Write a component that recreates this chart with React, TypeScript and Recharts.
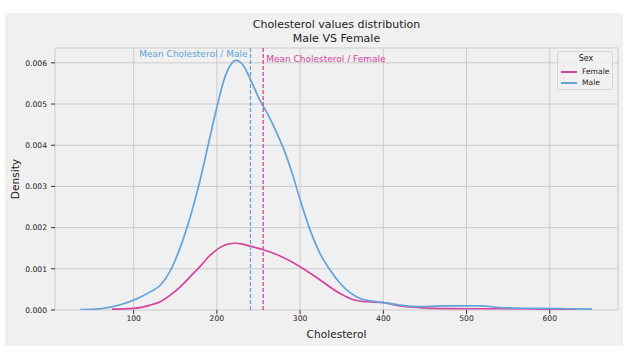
import React from 'react';
import { LineChart, Line, XAxis, YAxis, CartesianGrid, ReferenceLine, Legend } from 'recharts';

const maleCholesterol = [36, 55, 72, 86, 100, 120, 132, 144, 156, 168, 180, 188, 200, 208, 215, 223, 232, 240, 252, 262, 272, 282, 292, 300, 312, 324, 336, 348, 360, 372, 385, 400, 420, 445, 470, 495, 517, 540, 580, 620, 651];
const maleDensity = [0.00001, 0.00002, 0.00007, 0.00014, 0.00024, 0.00044, 0.0006, 0.00095, 0.00152, 0.00226, 0.00316, 0.00387, 0.00492, 0.00555, 0.0059, 0.00606, 0.00593, 0.00561, 0.00508, 0.00472, 0.0043, 0.00382, 0.00322, 0.00268, 0.00194, 0.00137, 0.00097, 0.00065, 0.00042, 0.00028, 0.00022, 0.00018, 0.00012, 0.00008, 0.0001, 0.0001, 0.0001, 0.00006, 0.00004, 0.00003, 0.00002];

const femaleCholesterol = [74, 100, 120, 132, 144, 156, 168, 180, 192, 204, 213, 222, 231, 240, 255, 276, 300, 324, 348, 364, 380, 400, 420, 445, 457, 500, 560, 600, 631];
const femaleDensity = [0.00002, 0.00004, 0.00012, 0.0002, 0.00036, 0.00056, 0.00081, 0.00106, 0.00133, 0.00152, 0.0016, 0.00162, 0.0016, 0.00155, 0.00147, 0.00131, 0.00105, 0.00073, 0.0004, 0.00025, 0.0002, 0.00018, 0.0001, 0.00006, 0.00004, 0.00003, 0.00003, 0.00002, 0.00002];

const meanMale = 240.4;
const meanFemale = 255.6;

const xTicks = [100, 200, 300, 400, 500, 600];
const yTicks = [0, 0.001, 0.002, 0.003, 0.004, 0.005, 0.006];

const titleLines = ['Cholesterol values distribution', 'Male VS Female'];

const MALE = '#62a3d9';
const FEMALE = '#d4449c';
const FONT = 'DejaVu Sans, sans-serif';

const maleData = maleCholesterol.map((x, i) => ({ x, y: maleDensity[i] }));
const femaleData = femaleCholesterol.map((x, i) => ({ x, y: femaleDensity[i] }));

const centered = (left: number, top: number, size: number, extra: React.CSSProperties = {}): React.CSSProperties => ({
  position: 'absolute', left, top, transform: 'translate(-50%,-50%)', fontSize: size,
  fontFamily: FONT, color: '#222', whiteSpace: 'nowrap', lineHeight: 1, ...extra,
});

const LegendBox = () => (
  <div style={{ width: 56, height: 39, border: '1px solid #d6d6d6', borderRadius: 2, background: 'rgba(240,240,240,0.85)', fontFamily: FONT, position: 'relative', boxSizing: 'border-box' }}>
    <div style={{ position: 'absolute', left: 0, width: 56, top: 2, textAlign: 'center', fontSize: 8, color: '#222', lineHeight: '10px' }}>Sex</div>
    {[{ n: 'Female', c: FEMALE, y: 20 }, { n: 'Male', c: MALE, y: 31 }].map((r) => (
      <div key={r.n}>
        <div style={{ position: 'absolute', left: 3, top: r.y - 1, width: 16, height: 1.5, background: r.c }} />
        <div style={{ position: 'absolute', left: 24, top: r.y - 5, fontSize: 7.6, color: '#222', lineHeight: '10px' }}>{r.n}</div>
      </div>
    ))}
  </div>
);

const meanLabel = (text: string, color: string, side: 'left' | 'right', dy: number) => (props: any) => {
  const vb = props.viewBox || {};
  const x = side === 'left' ? vb.x - 3 : vb.x + 3;
  return (
    <text x={x} y={vb.y + dy} fill={color} fontSize={9} fontFamily={FONT} textAnchor={side === 'left' ? 'end' : 'start'} dominantBaseline="central">
      {text}
    </text>
  );
};

export default function App() {
  return (
    <div style={{ position: 'absolute', left: 0, top: 0, width: 635, height: 354, background: '#fff', overflow: 'hidden' }}>
      <div style={{ position: 'absolute', left: 5, top: 13, width: 618, height: 333, background: '#f0f0f0' }} />
      <div style={{ position: 'absolute', left: 0, top: 0 }}>
        <LineChart width={635} height={354} margin={{ top: 48, right: 17, bottom: 14, left: 5 }}>
          <CartesianGrid stroke="#cbcbcb" strokeWidth={1} fill="none" />
          <XAxis
            type="number"
            dataKey="x"
            domain={[5.5, 682]}
            ticks={xTicks}
            allowDataOverflow
            height={30}
            axisLine={false}
            tickLine={{ stroke: '#333' }}
            tickSize={4}
            tickMargin={2}
            tick={{ fontSize: 7.6, fill: '#222', fontFamily: FONT }}
          />
          <YAxis
            type="number"
            domain={[0, 0.00636]}
            ticks={yTicks}
            allowDataOverflow
            width={50}
            axisLine={false}
            tickLine={{ stroke: '#333' }}
            tickSize={4}
            tickMargin={4}
            tickFormatter={(v: number) => v.toFixed(3)}
            tick={{ fontSize: 7.6, fill: '#222', fontFamily: FONT }}
          />
          <Line data={femaleData} dataKey="y" name="Female" type="monotone" stroke={FEMALE} strokeWidth={1.7} dot={false} activeDot={false} isAnimationActive={false} />
          <Line data={maleData} dataKey="y" name="Male" type="monotone" stroke={MALE} strokeWidth={1.7} dot={false} activeDot={false} isAnimationActive={false} />
          <ReferenceLine x={meanMale} stroke={MALE} strokeWidth={1.3} strokeDasharray="4 2" label={meanLabel('Mean Cholesterol / Male', MALE, 'left', 6)} />
          <ReferenceLine x={meanFemale} stroke={FEMALE} strokeWidth={1.3} strokeDasharray="4 2" label={meanLabel('Mean Cholesterol / Female', FEMALE, 'right', 11)} />
          <Legend layout="vertical" align="center" verticalAlign="middle" content={() => <LegendBox />} wrapperStyle={{ left: 557, top: 51, width: 58, height: 40 }} />
        </LineChart>
      </div>
      <div style={centered(336.5, 24, 11)}>{titleLines[0]}</div>
      <div style={centered(336.5, 38, 11)}>{titleLines[1]}</div>
      <div style={centered(336.5, 334, 10.6)}>Cholesterol</div>
      <div style={centered(14.5, 179, 10.6, { transform: 'translate(-50%,-50%) rotate(-90deg)' })}>Density</div>
    </div>
  );
}
